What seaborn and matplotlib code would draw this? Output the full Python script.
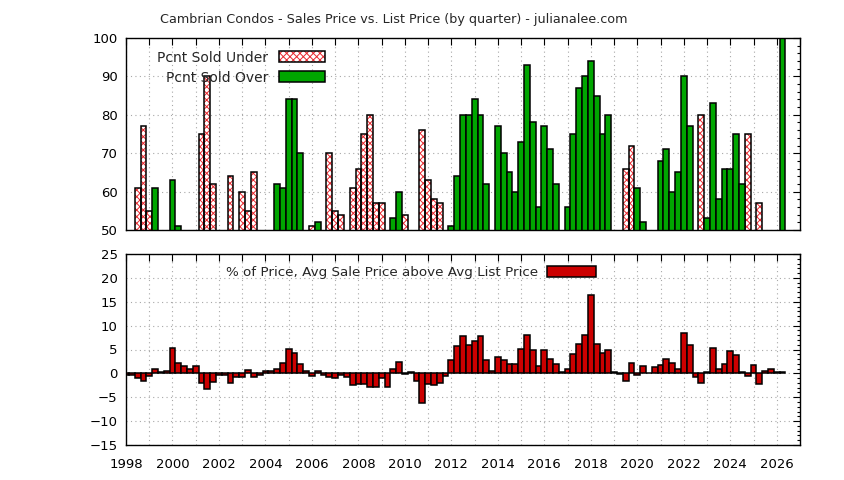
import numpy as np
import pandas as pd
import seaborn as sns
import matplotlib.pyplot as plt
from matplotlib.ticker import MultipleLocator, FuncFormatter
from matplotlib.patches import Patch

sns.set_style('white')
plt.rcParams['font.family'] = ['DejaVu Sans']
plt.rcParams['font.size'] = 9.5
plt.rcParams['hatch.linewidth'] = 0.7

# top panel: percent of sales under / over list, by quarter
under_qtr = ['1998Q3', '1998Q4', '1999Q1', '2001Q2', '2001Q3', '2001Q4', '2002Q3',
             '2003Q1', '2003Q2', '2003Q3', '2006Q1', '2006Q4', '2007Q1', '2007Q2',
             '2007Q4', '2008Q1', '2008Q2', '2008Q3', '2008Q4', '2009Q1', '2010Q1',
             '2010Q4', '2011Q1', '2011Q2', '2011Q3', '2019Q3', '2019Q4', '2022Q4',
             '2024Q4', '2025Q2']
under_pct = [61, 77, 55, 75, 90, 62, 64,
             60, 55, 65, 51, 70, 55, 54,
             61, 66, 75, 80, 57, 57, 54,
             76, 63, 58, 57, 66, 72, 80,
             75, 57]

over_qtr = ['1999Q2', '2000Q1', '2000Q2', '2004Q3', '2004Q4', '2005Q1', '2005Q2',
            '2005Q3', '2006Q2', '2009Q3', '2009Q4', '2012Q1', '2012Q2', '2012Q3',
            '2012Q4', '2013Q1', '2013Q2', '2013Q3', '2014Q1', '2014Q2', '2014Q3',
            '2014Q4', '2015Q1', '2015Q2', '2015Q3', '2015Q4', '2016Q1', '2016Q2',
            '2016Q3', '2017Q1', '2017Q2', '2017Q3', '2017Q4', '2018Q1', '2018Q2',
            '2018Q3', '2018Q4', '2020Q1', '2020Q2', '2021Q1', '2021Q2', '2021Q3',
            '2021Q4', '2022Q1', '2022Q2', '2023Q1', '2023Q2', '2023Q3', '2023Q4',
            '2024Q1', '2024Q2', '2024Q3', '2026Q2']
over_pct = [61, 63, 51, 62, 61, 84, 84,
            70, 52, 53, 60, 51, 64, 80,
            80, 84, 80, 62, 77, 70, 65,
            60, 73, 93, 78, 56, 77, 71,
            62, 56, 75, 87, 90, 94, 85,
            75, 80, 61, 52, 68, 71, 60,
            65, 90, 77, 53, 83, 58, 66,
            66, 75, 62, 100]

# bottom panel: avg sale price above avg list price (%), every quarter from 1998Q1
diff_start_year = 1998
diff_pct = [-0.4, -0.4, -1.0, -1.7,
            -0.6, 1.0, 0.2, 0.6,
            5.4, 2.1, 1.5, 1.0,
            1.5, -2.1, -3.3, -1.9,
            -0.3, -0.4, -2.1, -0.8,
            -0.8, 0.8, -0.8, -0.4,
            0.6, 0.4, 1.0, 2.1,
            5.2, 4.2, 1.9, 0.4,
            -0.6, 0.4, -0.4, -0.8,
            -1.0, -0.4, -0.8, -2.5,
            -2.2, -2.2, -2.9, -2.9,
            -1.0, -2.9, 1.0, 2.3,
            -0.2, 0.2, -1.7, -6.25,
            -2.3, -2.5, -2.1, -0.6,
            2.9, 5.8, 7.9, 6.0,
            6.7, 7.9, 2.7, 0.4,
            3.5, 2.9, 1.9, 1.9,
            5.2, 8.1, 5.0, 1.5,
            5.0, 3.1, 1.9, 0.2,
            1.0, 4.0, 6.25, 8.1,
            16.5, 6.25, 4.2, 5.0,
            0.2, -0.2, -1.5, 2.1,
            -0.4, 1.5, 0.0, 1.25,
            1.7, 3.1, 2.1, 1.0,
            8.5, 6.0, -0.8, -2.1,
            0.2, 5.4, 1.0, 1.9,
            4.6, 3.75, 0.2, -0.6,
            1.7, -2.3, 0.6, 1.0,
            0.2, 0.2]


def qtr_to_year(q):
    y, n = q.split('Q')
    return int(y) + (int(n) - 1) * 0.25


under_df = pd.DataFrame({'t': [qtr_to_year(q) for q in under_qtr], 'pct': under_pct})
over_df = pd.DataFrame({'t': [qtr_to_year(q) for q in over_qtr], 'pct': over_pct})
diff_df = pd.DataFrame({'t': diff_start_year + np.arange(len(diff_pct)) * 0.25, 'pct': diff_pct})

green = '#00a600'
red = '#cc0000'
hatch_red = '#e8282e'

fig = plt.figure(figsize=(8.44, 4.8), dpi=100)
ax1 = fig.add_axes([126 / 844, 1 - 230 / 480, 674 / 844, 192 / 480])
ax2 = fig.add_axes([126 / 844, 1 - 445 / 480, 674 / 844, 191 / 480])

# hatched "under" bars: red crosshatch first, black outline on top
sns.barplot(data=under_df, x='t', y='pct', native_scale=True, orient='x', width=1,
            color='white', saturation=1, edgecolor=hatch_red, linewidth=0, hatch='xxxxx',
            errorbar=None, ax=ax1)
n_before = len(ax1.patches)
sns.barplot(data=under_df, x='t', y='pct', native_scale=True, orient='x', width=1,
            color='white', saturation=1, edgecolor='black', linewidth=1.1,
            errorbar=None, ax=ax1)
for p in ax1.patches[n_before:]:
    p.set_facecolor('none')

sns.barplot(data=over_df, x='t', y='pct', native_scale=True, orient='x', width=1,
            color=green, saturation=1, edgecolor='black', linewidth=1.1,
            errorbar=None, ax=ax1)

sns.barplot(data=diff_df, x='t', y='pct', native_scale=True, orient='x', width=1,
            color=red, saturation=1, edgecolor='black', linewidth=1.1,
            errorbar=None, ax=ax2, label='% of Price, Avg Sale Price above Avg List Price')

for ax in (ax1, ax2):
    ax.set_xlim(1998, 2027)
    ax.xaxis.set_major_locator(MultipleLocator(1))
    ax.set_xlabel('')
    ax.set_ylabel('')
    ax.grid(True, color='#a8a8a8', linestyle=(0, (1, 3)), linewidth=0.8)
    ax.set_axisbelow(True)
    ax.tick_params(which='both', direction='in', top=True, right=True, colors='black',
                   labelsize=9.5)
    ax.tick_params(which='major', length=5, width=0.8)
    ax.tick_params(which='minor', length=2.5, width=0.8)
    ax.tick_params(axis='x', pad=9)
    ax.tick_params(axis='y', pad=6)
    for s in ax.spines.values():
        s.set_visible(True)
        s.set_color('black')
        s.set_linewidth(1.0)

ax1.set_ylim(50, 100)
ax1.yaxis.set_major_locator(MultipleLocator(10))
ax1.yaxis.set_minor_locator(MultipleLocator(2))
ax1.tick_params(labelbottom=False)

ax2.set_ylim(-15, 25)
ax2.yaxis.set_major_locator(MultipleLocator(5))
ax2.yaxis.set_minor_locator(MultipleLocator(1))
ax2.xaxis.set_major_formatter(FuncFormatter(lambda v, p: f'{int(round(v))}' if int(round(v)) % 2 == 0 else ''))

under_handle = (Patch(facecolor='white', edgecolor=hatch_red, hatch='xxxxx', linewidth=0),
                Patch(facecolor='none', edgecolor='black', linewidth=1.1))
over_handle = Patch(facecolor=green, edgecolor='black', linewidth=1.1)
ax1.legend([under_handle, over_handle], ['Pcnt Sold Under', 'Pcnt Sold Over'], loc='upper left',
           bbox_to_anchor=(0.028, 1.0), frameon=False, markerfirst=False,
           handlelength=3.3, handleheight=0.85, handletextpad=0.75, labelspacing=0.45,
           fontsize=10)
ax2.legend(loc='upper right', bbox_to_anchor=(0.716, 1.0), frameon=False, markerfirst=False,
           handlelength=3.7, handleheight=0.85, handletextpad=0.6, fontsize=9.7)

fig.text(394 / 844, 1 - 19 / 480, 'Cambrian Condos - Sales Price vs. List Price (by quarter) - julianalee.com',
         ha='center', va='center', fontsize=9.2)

fig.savefig('out.png', dpi=100, facecolor='white')
